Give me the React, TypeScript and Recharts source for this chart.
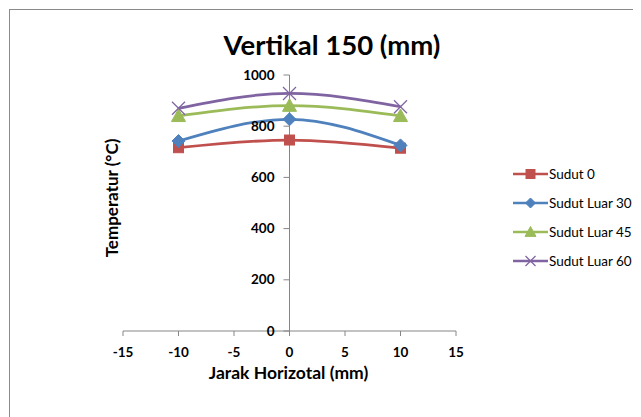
import React from "react";
import { LineChart, Line, XAxis, YAxis, ReferenceLine, Legend, Label } from "recharts";

const xPositions = [-10, 0, 10];
const sudut0 = [716, 746, 714];
const sudutLuar30 = [742, 827, 725];
const sudutLuar45 = [840, 880, 840];
const sudutLuar60 = [870, 928, 876];
const xTicks = [-15, -10, -5, 0, 5, 10, 15];
const yTicks = [0, 200, 400, 600, 800, 1000];
const seriesNames = ["Sudut 0", "Sudut Luar 30", "Sudut Luar 45", "Sudut Luar 60"];

const data = xPositions.map((x, i) => ({
  x,
  s0: sudut0[i],
  s30: sudutLuar30[i],
  s45: sudutLuar45[i],
  s60: sudutLuar60[i],
}));

const SERIES = [
  { key: "s0", name: seriesNames[0], color: "#C0504D", shape: "square" },
  { key: "s30", name: seriesNames[1], color: "#4F81BD", shape: "diamond" },
  { key: "s45", name: seriesNames[2], color: "#9BBB59", shape: "triangle" },
  { key: "s60", name: seriesNames[3], color: "#8064A2", shape: "x" },
];

const W = 633;
const H = 409;
const PL = 115;
const PT = 67;
const PW = 333;
const PH = 256;
const XAXIS_H = 30;
const YAXIS_W = 20;
const AXIS_COLOR = "#868686";
const FONT = "Lato, 'Open Sans', sans-serif";

function Marker({ shape, color, cx, cy, legend }: any) {
  if (cx == null || cy == null) return null;
  if (shape === "square") {
    const s = legend ? 9 : 10;
    return <rect x={cx - s / 2} y={cy - s / 2} width={s} height={s} fill={color} stroke={color} strokeWidth={1} />;
  }
  if (shape === "diamond") {
    const r = legend ? 5 : 6.5;
    return (
      <path d={`M${cx},${cy - r} L${cx + r},${cy} L${cx},${cy + r} L${cx - r},${cy} Z`} fill={color} stroke={color} strokeWidth={1} />
    );
  }
  if (shape === "triangle") {
    const r = legend ? 5.5 : 7;
    return (
      <path d={`M${cx},${cy - r} L${cx + r},${cy + r * 0.8} L${cx - r},${cy + r * 0.8} Z`} fill={color} stroke={color} strokeWidth={1} />
    );
  }
  const r = legend ? 5 : 6.5;
  return (
    <g stroke={color} strokeWidth={1.3}>
      <line x1={cx - r} y1={cy - r} x2={cx + r} y2={cy + r} />
      <line x1={cx - r} y1={cy + r} x2={cx + r} y2={cy - r} />
    </g>
  );
}

function YTick(props: any) {
  const { y, payload } = props;
  const cx = PL + PW / 2;
  return (
    <g>
      <line x1={cx - 6} x2={cx} y1={y} y2={y} stroke={AXIS_COLOR} strokeWidth={1} />
      <text x={cx - 15} y={y} dy={4.5} textAnchor="end" fontFamily={FONT} fontWeight={700} fontSize={13.5} fill="#000">
        {payload.value}
      </text>
    </g>
  );
}

function LegendContent() {
  return (
    <div style={{ fontFamily: FONT, fontSize: 13.5, color: "#000" }}>
      {SERIES.map((s) => (
        <div key={s.key} style={{ display: "flex", alignItems: "center", height: 29 }}>
          <svg width={35} height={16} style={{ display: "block", flex: "none" }}>
            <line x1={0} x2={35} y1={8} y2={8} stroke={s.color} strokeWidth={2.5} />
            <Marker shape={s.shape} color={s.color} cx={17.5} cy={8} legend />
          </svg>
          <span style={{ marginLeft: 1, whiteSpace: "nowrap" }}>{s.name}</span>
        </div>
      ))}
    </div>
  );
}

export default function App() {
  return (
    <div style={{ position: "relative", width: W, height: H, overflow: "hidden", background: "#fff" }}>
      <div
        style={{
          position: "absolute",
          left: 1,
          top: 1,
          width: W + 20,
          height: H + 20,
          borderLeft: "1.5px solid #8a8a8a",
          borderTop: "1.5px solid #8a8a8a",
        }}
      />
      <div
        style={{
          position: "absolute",
          left: 174,
          width: 300,
          top: 23,
          textAlign: "center",
          fontFamily: FONT,
          fontWeight: 700,
          fontSize: 27.5,
          lineHeight: "27px",
          whiteSpace: "nowrap",
          color: "#000",
        }}
      >
        Vertikal 150 (mm)
      </div>
      <div style={{ position: "absolute", left: 0, top: 0 }}>
        <LineChart
          width={W}
          height={H}
          data={data}
          margin={{ top: PT, left: PL - YAXIS_W, right: W - PL - PW, bottom: H - PT - PH - XAXIS_H }}
        >
          <XAxis
            dataKey="x"
            type="number"
            domain={[-15, 15]}
            ticks={xTicks}
            height={XAXIS_H}
            stroke={AXIS_COLOR}
            tickSize={5}
            tickMargin={11}
            tick={{ fill: "#000", fontFamily: FONT, fontWeight: 700, fontSize: 13.5 }}
            interval={0}
          >
            <Label
              content={() => (
                <text x={280.5} y={371} textAnchor="middle" fontFamily={FONT} fontWeight={700} fontSize={17.5} fill="#000">
                  Jarak Horizotal (mm)
                </text>
              )}
            />
          </XAxis>
          <YAxis
            type="number"
            domain={[0, 1000]}
            ticks={yTicks}
            width={YAXIS_W}
            axisLine={false}
            tickLine={false}
            tick={(p: any) => <YTick key={`yt-${p.index}`} {...p} />}
            interval={0}
          >
            <Label
              content={() => (
                <text
                  x={103}
                  y={190}
                  textAnchor="middle"
                  dominantBaseline="central"
                  transform="rotate(-90 103 190)"
                  fontFamily={FONT}
                  fontWeight={700}
                  fontSize={17}
                  fill="#000"
                >
                  Temperatur (°C)
                </text>
              )}
            />
          </YAxis>
          <ReferenceLine x={0} stroke={AXIS_COLOR} strokeWidth={1} ifOverflow="extendDomain" />
          {SERIES.map((s) => (
            <Line
              key={s.key}
              dataKey={s.key}
              name={s.name}
              type="monotone"
              stroke={s.color}
              strokeWidth={2.75}
              isAnimationActive={false}
              dot={(p: any) => <Marker key={`${s.key}-${p.index}`} shape={s.shape} color={s.color} cx={p.cx} cy={p.cy} />}
              activeDot={false}
            />
          ))}
          <Legend
            layout="vertical"
            align="center"
            verticalAlign="middle"
            content={<LegendContent />}
            wrapperStyle={{ left: 505, top: 151, width: 128 }}
          />
        </LineChart>
      </div>
    </div>
  );
}
